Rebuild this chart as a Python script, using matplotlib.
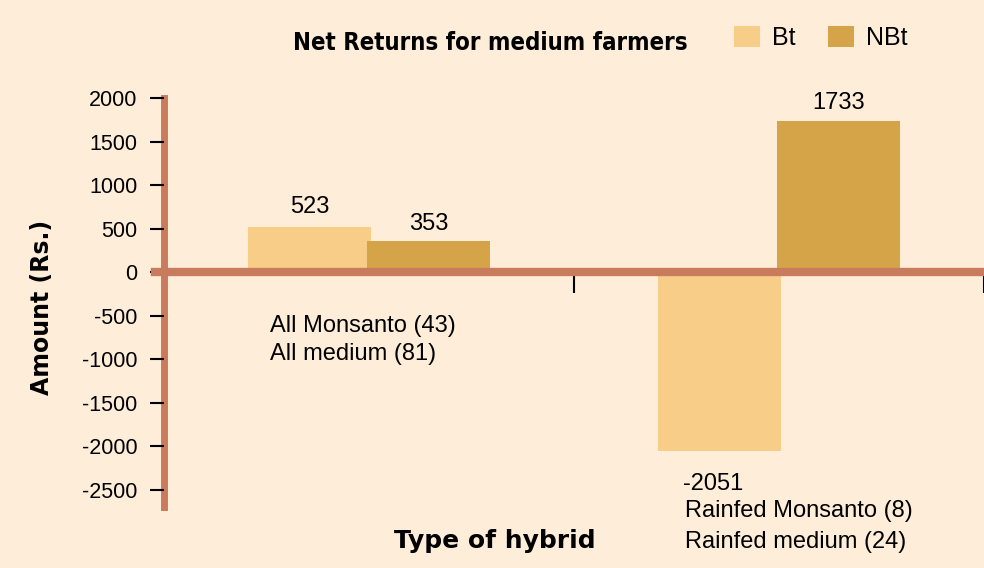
import matplotlib.pyplot as plt
from matplotlib import font_manager as fm
import numpy as np

groups = ['All', 'Rainfed']
bt = [523, -2051]
nbt = [353, 1733]
group_labels = [('All Monsanto (43)', 'All medium (81)'),
                ('Rainfed Monsanto (8)', 'Rainfed medium (24)')]
yticks = [2000, 1500, 1000, 500, 0, -500, -1000, -1500, -2000, -2500]

bg = '#FDEDD9'
c_bt = '#F8CD87'
c_nbt = '#D5A348'
c_axis = '#C97C5D'

plt.rcParams['font.family'] = ['Liberation Sans', 'DejaVu Sans']

# look for a condensed bold face for the title
names = {f.name for f in fm.fontManager.ttflist}
title_font = dict(family='Liberation Sans', size=18.2)
if 'Liberation Sans Narrow' in names:
    title_font = dict(family='Liberation Sans Narrow', size=21)
else:
    for f in fm.fontManager.ttflist:
        if f.name in ('Noto Sans', 'DejaVu Sans', 'Open Sans', 'Roboto') and 'condensed' in str(f.stretch) \
                and 'semi' not in str(f.stretch):
            title_font = dict(family=f.name, stretch='condensed', size=17.2)
            break

fig = plt.figure(figsize=(9.84, 5.68), dpi=100, facecolor=bg)
ax = fig.add_axes([155 / 984, 1 - 507 / 568, 1 - 155 / 984, (507 - 98) / 568])
ax.set_facecolor(bg)

x = np.arange(len(groups)) + 0.5
w = 0.30
ax.bar(x - 0.145, bt, w, color=c_bt, label='Bt', zorder=2)
ax.bar(x + 0.145, nbt, w, color=c_nbt, label='NBt', zorder=2)

ax.set_xlim(-0.022, 2.0)
ax.set_ylim(-2700, 2000)

for s in ['top', 'right']:
    ax.spines[s].set_visible(False)
ax.spines['left'].set_position(('data', 0))
ax.spines['left'].set_color(c_axis)
ax.spines['left'].set_linewidth(5)
ax.spines['left'].set_zorder(1)
ax.spines['bottom'].set_position(('data', 0))
ax.spines['bottom'].set_color(c_axis)
ax.spines['bottom'].set_linewidth(6)
ax.spines['bottom'].set_zorder(3)

ax.set_yticks(yticks)
ax.set_yticklabels([str(t) for t in yticks], fontsize=15.5)
ax.tick_params(axis='y', direction='out', length=10, width=1.5, color='black', pad=9)
ax.set_xticks([1, 2])
ax.set_xticklabels([])
ax.tick_params(axis='x', direction='out', length=15, width=1.5, color='black', pad=0)

# value labels
for xi, v in zip(x - 0.145, bt):
    if v > 0:
        ax.text(xi, v + 160, str(v), ha='center', va='baseline', fontsize=17)
    else:
        ax.text(xi - 0.015, v - 260, str(v), ha='center', va='top', fontsize=17)
for xi, v in zip(x + 0.145, nbt):
    ax.text(xi, v + 135, str(v), ha='center', va='baseline', fontsize=17)

# category labels
ax.text(0.2585, -690, group_labels[0][0], ha='left', va='baseline', fontsize=17)
ax.text(0.2585, -1011, group_labels[0][1], ha='left', va='baseline', fontsize=17)
ax.text(1.2707, -2815, group_labels[1][0], ha='left', va='baseline', fontsize=17)
ax.text(1.2707, -3172, group_labels[1][1], ha='left', va='baseline', fontsize=17)

fig.text(42 / 984, 1 - 307 / 568, 'Amount (Rs.)', rotation=90, ha='center', va='center',
         fontsize=17, fontweight='bold', family='DejaVu Sans')
fig.text(495 / 984, 1 - 548 / 568, 'Type of hybrid', ha='center', va='baseline',
         fontsize=18, fontweight='bold', family='DejaVu Sans')
fig.text(490 / 984, 1 - 50 / 568, 'Net Returns for medium farmers', ha='center', va='baseline',
         fontweight='bold', **title_font)

fig.legend(loc='center left', bbox_to_anchor=(734 / 984, 1 - 38 / 568), ncol=2, frameon=False,
           fontsize=18, handlelength=1.04, handleheight=0.88, columnspacing=1.28, handletextpad=0.48,
           borderpad=0, borderaxespad=0)

fig.savefig('out.png', dpi=100, facecolor=bg)
